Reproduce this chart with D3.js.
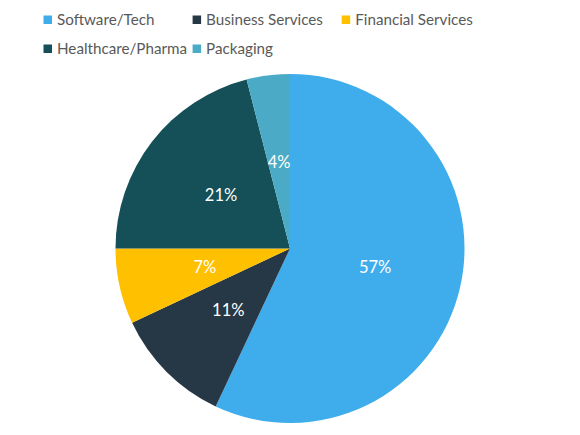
<!DOCTYPE html>
<html>
<head>
<meta charset="utf-8">
<script src="https://cdn.jsdelivr.net/npm/d3@7"></script>
<style>
  html, body { margin: 0; padding: 0; background: #fff; }
  svg { display: block; font-family: Lato, "Open Sans", sans-serif; }
</style>
</head>
<body>
<svg id="chart" width="580" height="435"></svg>
<script>
const categories = ["Software/Tech", "Business Services", "Financial Services", "Healthcare/Pharma", "Packaging"];
const values = [57, 11, 7, 21, 4];
const colors = ["#3FADEC", "#263746", "#FFC000", "#154F57", "#4BAAC6"];

const svg = d3.select("#chart");
const cx = 290, cy = 248.5, R = 174.5;

const data = categories.map((c, i) => ({ name: c, value: values[i], color: colors[i] }));

const pie = d3.pie().value(d => d.value).sort(null);
const arc = d3.arc().innerRadius(0).outerRadius(R);
const arcs = pie(data);

const g = svg.append("g").attr("transform", `translate(${cx},${cy})`);
g.selectAll("path.slice")
  .data(arcs)
  .join("path")
  .attr("class", "slice")
  .attr("d", arc)
  .attr("fill", d => d.data.color);

g.selectAll("text.lbl")
  .data(arcs)
  .join("text")
  .attr("class", "lbl")
  .attr("transform", d => `translate(${arc.centroid(d)})`)
  .attr("text-anchor", "middle")
  .attr("dy", "0.36em")
  .attr("fill", "#ffffff")
  .attr("font-size", 16.5)
  .text(d => d.data.value + "%");

// legend
const legX = d3.scalePoint().domain([0, 1, 2]).range([43.5, 341.7]);
const legY = d3.scalePoint().domain([0, 1]).range([20, 49]);
const leg = svg.append("g").selectAll("g")
  .data(data)
  .join("g")
  .attr("transform", (d, i) => `translate(${legX(i % 3)},${legY(Math.floor(i / 3))})`);
leg.append("rect")
  .attr("x", 0).attr("y", -4.5)
  .attr("width", 8.5).attr("height", 8.5)
  .attr("fill", d => d.color);
leg.append("text")
  .attr("x", 13.5)
  .attr("dy", "0.36em")
  .attr("fill", "#595959")
  .attr("font-size", 15.2)
  .text(d => d.name);
</script>
</body>
</html>
